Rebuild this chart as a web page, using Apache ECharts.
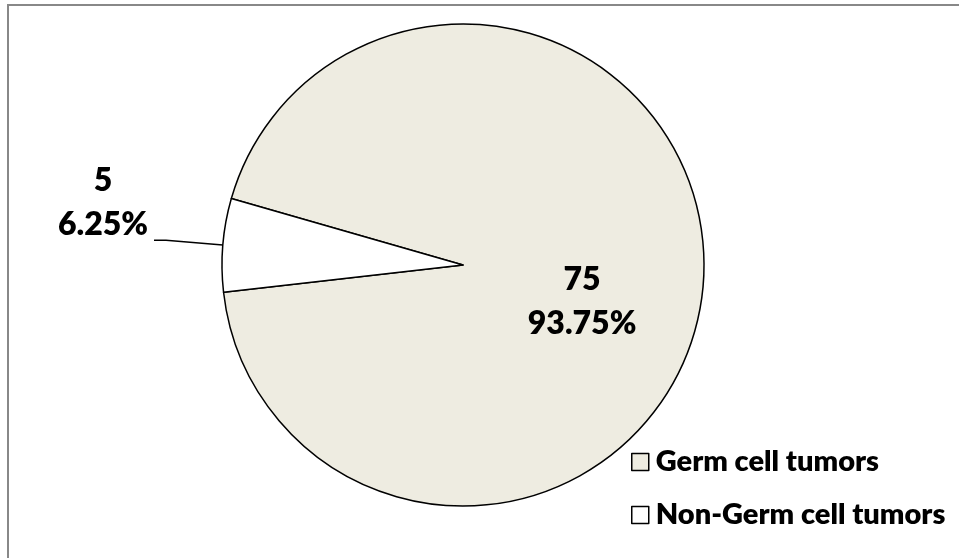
<!DOCTYPE html>
<html>
<head>
<meta charset="utf-8">
<script src="https://cdn.jsdelivr.net/npm/echarts@6/dist/echarts.min.js"></script>
<style>html,body{margin:0;padding:0;background:#fff}#c{width:959px;height:558px}</style>
</head>
<body>
<div id="c"></div>
<script>
const categories = ['Germ cell tumors', 'Non-Germ cell tumors'];
const values = [75, 5];
const colors = ['#EEECE1', '#FFFFFF'];

const chart = echarts.init(document.getElementById('c'));
const FONT = 'Lato';
const WEIGHT = 800;
chart.setOption({
  backgroundColor: '#fff',
  animation: false,
  graphic: [{
    type: 'polyline',
    shape: { points: [[8, 560], [8, 5], [962, 5]] },
    style: { stroke: '#888', lineWidth: 2, fill: null }
  }],
  legend: {
    orient: 'vertical',
    left: 626,
    top: 441,
    itemWidth: 17,
    itemHeight: 17,
    itemGap: 21,
    icon: 'rect',
    itemStyle: { borderColor: '#000', borderWidth: 1.5 },
    textStyle: { fontFamily: FONT, fontWeight: WEIGHT, fontSize: 29, lineHeight: 32, color: '#000', padding: [0, 0, 0, 2] },
    data: categories
  },
  series: [{
    type: 'pie',
    center: [463, 265],
    radius: 241,
    startAngle: 164,
    clockwise: true,
    avoidLabelOverlap: false,
    itemStyle: { borderColor: '#000', borderWidth: 1.5 },
    label: {
      fontFamily: FONT, fontWeight: WEIGHT, fontSize: 32, lineHeight: 44, color: '#000',
      formatter: '{c}\n{d}%'
    },
    labelLine: { length: 57, length2: 12, lineStyle: { color: '#000', width: 1.5 } },
    labelLayout: function (p) {
      if (p.dataIndex === 0) return { dy: 26, dx: -4 };
      return {};
    },
    data: categories.map((n, i) => {
      const d = { name: n, value: values[i], itemStyle: { color: colors[i] } };
      if (i === 0) {
        d.label = { position: 'inside' };
        d.labelLine = { show: false };
      } else {
        d.label = {
          position: 'outside',
          formatter: '{a|{c}}\n{a|{d}%}',
          width: 92,
          padding: [0, 0, 76, 0],
          rich: { a: { align: 'center', fontFamily: FONT, fontWeight: WEIGHT, fontSize: 32, lineHeight: 44, color: '#000' } }
        };
      }
      return d;
    })
  }]
});
</script>
</body>
</html>
